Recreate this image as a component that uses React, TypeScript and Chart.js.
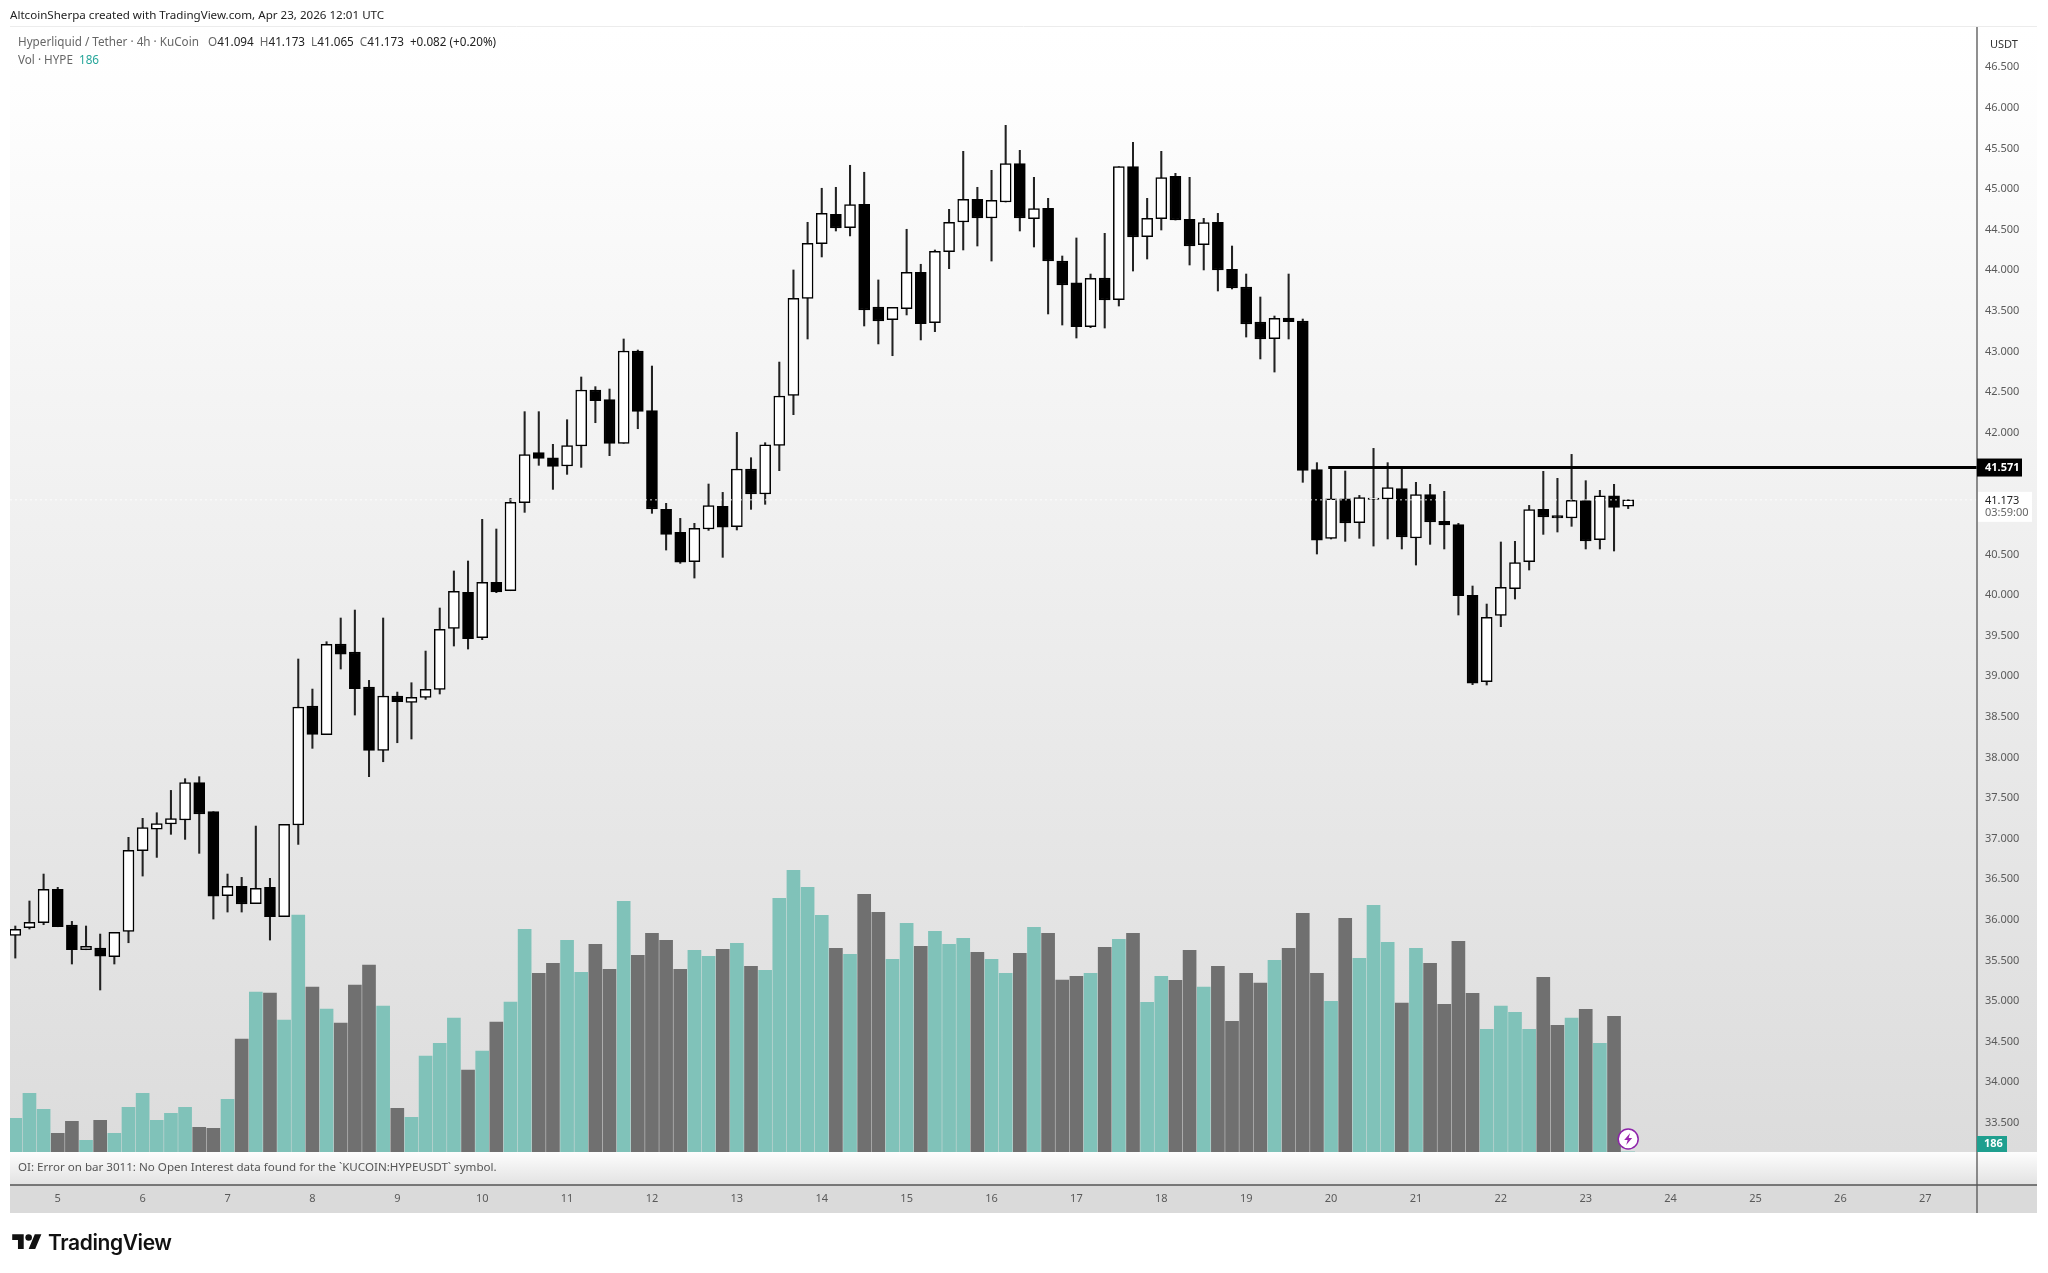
import React, { useEffect, useRef } from "react";
import { Chart, registerables } from "chart.js";

Chart.register(...registerables);

const opens = [35.81,35.904,35.966,36.376,35.937,35.633,35.654,35.547,35.859,36.852,37.119,37.181,37.23,37.69,37.333,36.298,36.413,36.2,36.401,36.04,37.169,38.634,38.281,39.398,39.299,38.868,38.088,38.757,38.679,38.741,38.839,39.59,40.034,39.476,40.157,40.054,41.138,41.754,41.692,41.59,41.836,42.526,42.407,41.869,43.006,42.271,41.056,40.773,40.412,40.814,41.093,40.843,41.553,41.245,41.844,42.46,43.655,44.328,44.689,44.525,44.813,43.548,43.392,43.528,43.975,43.355,44.23,44.595,44.874,44.644,44.841,45.313,44.636,44.763,44.114,43.844,43.306,43.905,43.638,45.276,44.414,44.636,45.157,44.628,44.316,44.591,44.012,43.794,43.363,43.158,43.412,43.376,41.545,40.699,41.187,40.892,41.179,41.183,41.311,40.703,41.237,40.908,40.867,39.997,38.934,39.751,40.079,40.412,41.056,40.978,40.949,41.163,40.682,41.224,41.094];
const highs = [35.925,36.233,36.565,36.401,35.982,35.925,35.826,35.847,37.017,37.251,37.32,37.595,37.739,37.764,37.333,36.565,36.524,37.156,36.512,37.177,39.213,38.843,39.426,39.718,39.816,38.95,39.718,38.806,38.921,39.311,39.841,40.297,40.42,40.933,40.814,41.191,42.259,42.259,41.857,42.16,42.686,42.567,42.538,43.154,43.018,42.821,41.13,40.945,40.884,41.368,41.265,42.004,41.692,41.877,42.87,44.004,44.591,45.01,45.022,45.293,45.207,43.881,43.544,44.505,44.074,44.25,44.751,45.465,45.022,45.231,45.785,45.477,45.145,44.886,44.176,44.398,43.954,44.455,45.276,45.576,44.886,45.465,45.194,45.145,44.64,44.701,44.299,43.954,43.671,43.437,43.954,43.4,41.631,41.565,41.528,41.228,41.807,41.631,41.557,41.389,41.364,41.278,40.884,40.112,39.89,40.654,40.662,41.105,41.524,41.438,41.733,41.409,41.29,41.364,41.173];
const lows = [35.53,35.888,35.941,35.916,35.457,35.633,35.137,35.457,35.719,36.54,36.77,37.054,36.992,36.82,36.011,36.097,36.097,36.2,35.752,36.04,36.93,38.113,38.281,39.09,38.523,37.764,37.948,38.182,38.228,38.716,38.782,39.373,39.336,39.451,40.03,40.054,41.019,41.598,41.302,41.487,41.573,42.123,41.717,41.869,42.049,41.007,40.555,40.391,40.21,40.797,40.465,40.802,41.056,41.118,41.532,42.222,43.154,44.164,44.484,44.423,43.314,43.093,42.948,43.45,43.142,43.244,44.02,44.25,44.299,44.114,44.841,44.484,44.287,43.462,43.326,43.166,43.293,43.289,43.56,43.991,44.139,44.496,44.619,44.065,44.004,43.745,43.77,43.178,42.908,42.747,43.154,41.389,40.506,40.691,40.662,40.699,40.604,40.691,40.568,40.37,40.625,40.568,39.755,38.897,38.893,39.611,39.952,40.309,40.748,40.777,40.847,40.568,40.568,40.543,41.065];
const closes = [35.883,35.97,36.376,35.916,35.633,35.674,35.555,35.847,36.857,37.136,37.185,37.247,37.69,37.304,36.294,36.413,36.196,36.389,36.04,37.177,38.622,38.285,39.393,39.274,38.847,38.088,38.757,38.687,38.741,38.839,39.578,40.046,39.463,40.157,40.04,41.142,41.729,41.684,41.586,41.84,42.526,42.394,41.869,43.006,42.263,41.06,40.748,40.407,40.822,41.101,40.838,41.553,41.245,41.852,42.452,43.655,44.332,44.702,44.521,44.808,43.511,43.376,43.544,43.975,43.343,44.234,44.591,44.874,44.644,44.862,45.313,44.644,44.759,44.114,43.819,43.306,43.901,43.634,45.276,44.41,44.64,45.141,44.619,44.299,44.587,44.004,43.782,43.339,43.154,43.408,43.367,41.536,40.678,41.187,40.888,41.2,41.196,41.323,40.715,41.237,40.9,40.863,39.993,38.917,39.726,40.095,40.399,41.052,40.962,40.949,41.167,40.666,41.224,41.081,41.173];
const volumesK = [33.7,58.7,42.7,18.7,30.7,11.7,31.7,18.7,44.7,58.7,31.7,38.7,44.7,24.7,23.7,52.7,113,160,159,132,237,165,143,129,167,187,146,43.7,34.7,96,108.7,134,82,101,130,150,222.7,178.7,188.7,211.7,179.7,207.7,182.7,250.7,196.7,218.7,211.7,182.7,201.7,195.7,202.7,208.7,185.7,181.7,253.7,281.7,264.7,236.7,203.7,197.7,257.7,239.7,192.7,228.7,205.7,220.7,207.7,213.7,199.7,192.7,178.7,198.7,224.7,218.7,172,175.7,178.7,204.7,212.7,218.7,149.7,175.7,171.7,201.7,165,185.7,130.7,178.7,169,191.7,203.7,238.7,178.7,150.7,233.7,193.7,246.7,209.7,149,203.7,188.7,147.7,210.7,158.7,122.7,146,139.7,122.7,174.7,126.7,134,142.7,108.7,135.7,0.186];
const dayLabels = [5,6,7,8,9,10,11,12,13,14,15,16,17,18,19,20,21,22,23,24,25,26,27];
const priceTicks = [33.5,34,34.5,35,35.5,36,36.5,37,37.5,38,38.5,39,39.5,40,40.5,41,41.5,42,42.5,43,43.5,44,44.5,45,45.5,46,46.5];
const resistance = 41.571;
const lastClose = 41.173;

const AXIS_FONT = '"Noto Sans", sans-serif';
const TEXT = "#5a5a5a";

const backdrop = {
  id: "backdrop",
  beforeDraw(chart: any) {
    const { ctx, chartArea: a, width } = chart;
    const right = width - 11;
    ctx.save();
    const g = ctx.createLinearGradient(0, a.top, 0, a.bottom);
    g.addColorStop(0, "#ffffff");
    g.addColorStop(0.05, "#fefefe");
    g.addColorStop(1, "#dcdcdc");
    ctx.fillStyle = g;
    ctx.fillRect(a.left, a.top, right - a.left, a.bottom - a.top);
    const s = ctx.createLinearGradient(0, a.bottom, 0, a.bottom + 33);
    s.addColorStop(0, "#fdfdfd");
    s.addColorStop(1, "#e2e2e2");
    ctx.fillStyle = s;
    ctx.fillRect(a.left, a.bottom, right - a.left, 33);
    ctx.fillStyle = "#dadada";
    ctx.fillRect(a.left, a.bottom + 33, right - a.left, 28);
    ctx.strokeStyle = "#ececec";
    ctx.lineWidth = 1;
    ctx.beginPath();
    ctx.moveTo(a.left, a.top - 0.5);
    ctx.lineTo(right, a.top - 0.5);
    ctx.stroke();
    ctx.restore();
  },
  afterDraw(chart: any) {
    const { ctx, chartArea: a, width, scales } = chart;
    const right = width - 11;
    const yp = scales.y;
    ctx.save();
    ctx.strokeStyle = "#555555";
    ctx.lineWidth = 1.3;
    ctx.beginPath();
    ctx.moveTo(a.right, a.top);
    ctx.lineTo(a.right, a.bottom + 61);
    ctx.moveTo(a.left, a.bottom + 33);
    ctx.lineTo(right, a.bottom + 33);
    ctx.stroke();

    ctx.textBaseline = "middle";
    ctx.textAlign = "left";

    ctx.fillStyle = "#333333";
    ctx.font = `11px ${AXIS_FONT}`;
    ctx.fillText("USDT", a.right + 13, 45);

    const yLast = yp.getPixelForValue(lastClose);
    ctx.fillStyle = "#ffffff";
    ctx.fillRect(a.right + 1, yLast - 8, 54, 30);
    ctx.fillStyle = "#222222";
    ctx.fillText(lastClose.toFixed(3), a.right + 8, yLast + 1);
    ctx.fillStyle = "#666666";
    ctx.fillText("03:59:00", a.right + 8, yLast + 13);

    const yRes = yp.getPixelForValue(resistance);
    ctx.fillStyle = "#000000";
    ctx.fillRect(a.right, yRes - 9, 45, 18);
    ctx.fillStyle = "#ffffff";
    ctx.font = `bold 11px ${AXIS_FONT}`;
    ctx.fillText(resistance.toFixed(3), a.right + 8, yRes);

    const yVol = a.bottom - 8;
    ctx.fillStyle = "#1f9f8f";
    ctx.fillRect(a.right, yVol - 8, 30, 16);
    ctx.fillStyle = "#ffffff";
    ctx.fillText("186", a.right + 7, yVol);

    const xBolt = scales.x.getPixelForValue(opens.length - 1);
    const yBolt = a.bottom - 13;
    ctx.beginPath();
    ctx.arc(xBolt, yBolt, 10, 0, Math.PI * 2);
    ctx.fillStyle = "#ffffff";
    ctx.fill();
    ctx.strokeStyle = "#8e24aa";
    ctx.lineWidth = 1.5;
    ctx.stroke();
    ctx.fillStyle = "#9c27b0";
    ctx.beginPath();
    ctx.moveTo(xBolt + 2, yBolt - 6);
    ctx.lineTo(xBolt - 4, yBolt + 1);
    ctx.lineTo(xBolt - 0.5, yBolt + 1);
    ctx.lineTo(xBolt - 2, yBolt + 6);
    ctx.lineTo(xBolt + 4, yBolt - 1);
    ctx.lineTo(xBolt + 0.5, yBolt - 1);
    ctx.closePath();
    ctx.fill();
    ctx.restore();
  },
};

const Label = ({ style, children }: any) => (
  <div style={{ position: "absolute", whiteSpace: "pre", fontFamily: AXIS_FONT, lineHeight: "16px", ...style }}>{children}</div>
);
const V = ({ children }: any) => <span style={{ color: "#222" }}>{children}</span>;

export default function App() {
  const ref = useRef<HTMLCanvasElement>(null);
  useEffect(() => {
    const idx = opens.map((_, i) => i);
    const isUp = idx.map((i) => closes[i] >= opens[i]);
    const chart = new Chart(ref.current as any, {
      type: "bar",
      data: {
        datasets: [
          {
            type: "line",
            order: 0,
            data: [{ x: 92.8, y: resistance }, { x: 138.655, y: resistance }],
            borderColor: "#000000",
            borderWidth: 3,
            pointRadius: 0,
            yAxisID: "y",
          },
          {
            type: "line",
            order: 0.5,
            data: [{ x: -0.375, y: lastClose }, { x: 138.655, y: lastClose }],
            borderColor: "rgba(255,255,255,0.85)",
            borderWidth: 1,
            borderDash: [2, 3],
            pointRadius: 0,
            yAxisID: "y",
          },
          {
            order: 1,
            grouped: false,
            barThickness: 11,
            borderWidth: 1.5,
            borderColor: "#000000",
            borderSkipped: false,
            backgroundColor: isUp.map((u) => (u ? "#ffffff" : "#000000")),
            data: idx.map((i) => ({ x: i, y: [opens[i], closes[i]] })),
            yAxisID: "y",
          },
          {
            order: 2,
            grouped: false,
            barThickness: 1.4,
            borderWidth: 0,
            backgroundColor: "#222222",
            data: idx.map((i) => ({ x: i, y: [lows[i], highs[i]] })),
            yAxisID: "y",
          },
          {
            order: 3,
            grouped: false,
            barThickness: 13,
            borderWidth: 0,
            backgroundColor: isUp.map((u) => (u ? "#80c2b9" : "#707070")),
            data: idx.map((i) => ({ x: i, y: volumesK[i] })),
            yAxisID: "vol",
          },
        ],
      } as any,
      options: {
        animation: false,
        responsive: false,
        events: [],
        layout: { padding: { left: 10, right: 11, top: 27, bottom: 60 } },
        plugins: { legend: { display: false }, tooltip: { enabled: false } },
        scales: {
          x: {
            type: "linear",
            offset: false,
            min: -0.375,
            max: 138.655,
            grid: { display: false, drawTicks: false },
            border: { display: false },
            afterBuildTicks: (s: any) => {
              s.ticks = dayLabels.map((_, k) => ({ value: 3 + 6 * k }));
            },
            afterFit: (s: any) => {
              s.height = 61;
            },
            ticks: {
              autoSkip: false,
              maxRotation: 0,
              padding: 40,
              color: TEXT,
              font: { family: AXIS_FONT, size: 11 },
              callback: (v: any) => String(dayLabels[(Number(v) - 3) / 6]),
            },
          },
          y: {
            type: "linear",
            position: "right",
            min: 33.142,
            max: 46.996,
            grid: { display: false, drawTicks: false },
            border: { display: false },
            afterBuildTicks: (s: any) => {
              s.ticks = priceTicks.map((value) => ({ value }));
            },
            afterFit: (s: any) => {
              s.width = 60;
            },
            ticks: {
              autoSkip: false,
              padding: 8,
              color: TEXT,
              font: { family: AXIS_FONT, size: 11 },
              callback: (v: any) => Number(v).toFixed(3),
            },
          },
          vol: { type: "linear", display: false, min: 0, max: 1125 },
        },
      } as any,
      plugins: [backdrop],
    });
    return () => chart.destroy();
  }, []);

  return (
    <div style={{ position: "absolute", left: 0, top: 0, width: 2048, height: 1273, background: "#fff", overflow: "hidden" }}>
      <canvas ref={ref} width={2048} height={1273} style={{ display: "block", width: 2048, height: 1273 }} />
      <Label style={{ left: 10, top: 7, fontSize: 11.6, color: "#222" }}>AltcoinSherpa created with TradingView.com, Apr 23, 2026 12:01 UTC</Label>
      <Label style={{ left: 18, top: 33, fontSize: 11.7, color: "#666" }}>
        {"Hyperliquid / Tether · 4h · KuCoin   O"}<V>41.094</V>{"  H"}<V>41.173</V>{"  L"}<V>41.065</V>{"  C"}<V>41.173</V>{"  "}<V>+0.082 (+0.20%)</V>
      </Label>
      <Label style={{ left: 18, top: 51, fontSize: 11.7, color: "#666" }}>
        {"Vol · HYPE  "}<span style={{ color: "#26a69a" }}>186</span>
      </Label>
      <Label style={{ left: 18, top: 1159, fontSize: 11.6, color: "#555" }}>OI: Error on bar 3011: No Open Interest data found for the `KUCOIN:HYPEUSDT` symbol.</Label>
      <svg style={{ position: "absolute", left: 12, top: 1231 }} width="30" height="23" viewBox="0 0 36 28" fill="#111">
        <path d="M14 22H7V11H0V4h14v18zM28 22h-8l7.5-18h8L28 22z" />
        <circle cx="20" cy="8" r="4" />
      </svg>
      <Label style={{ left: 48, top: 1230, fontSize: 21, lineHeight: "26px", fontWeight: 600, fontFamily: "Inter, sans-serif", color: "#111", letterSpacing: "-0.4px" }}>TradingView</Label>
    </div>
  );
}
